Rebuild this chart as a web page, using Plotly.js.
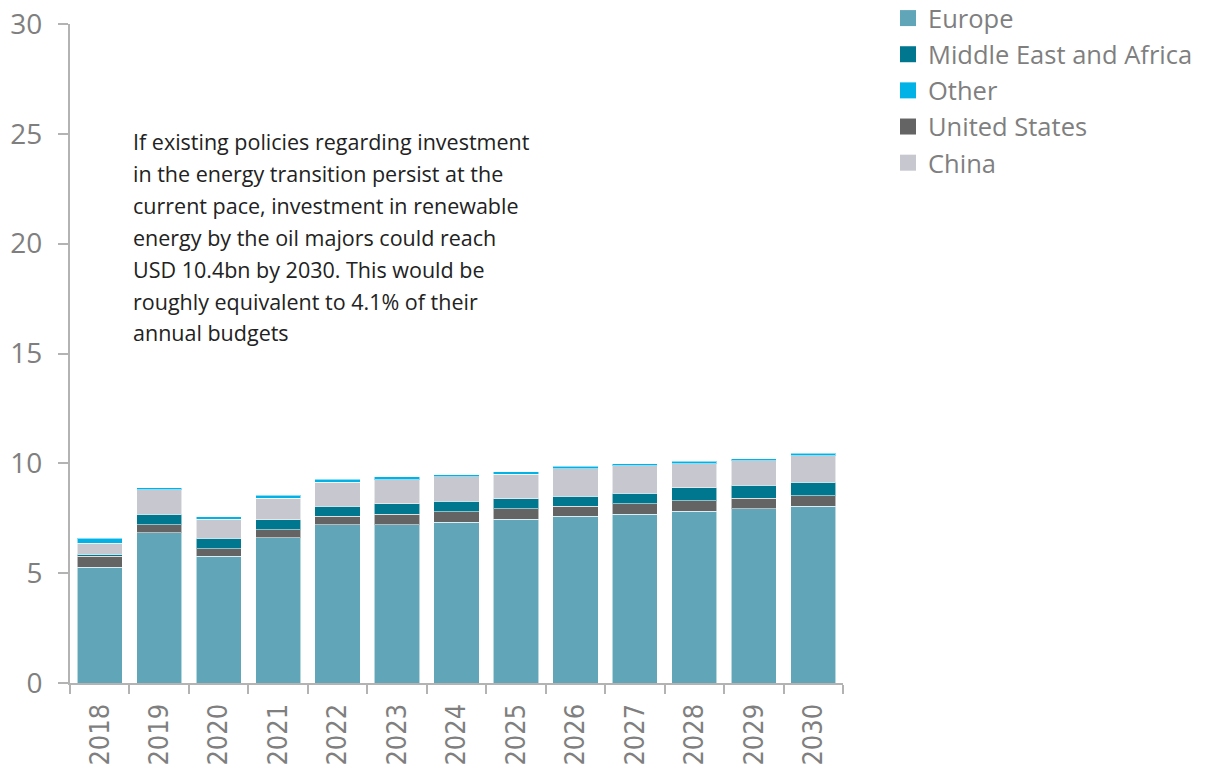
<!DOCTYPE html>
<html>
<head>
<meta charset="utf-8">
<script src="https://cdn.plot.ly/plotly-3.0.1.min.js"></script>
<style>html,body{margin:0;padding:0;background:#fff;}</style>
</head>
<body>
<div id="chart" style="width:1213px;height:770px;"></div>
<script>
const years = ['2018','2019','2020','2021','2022','2023','2024','2025','2026','2027','2028','2029','2030'];
const europe = [5.27, 6.85, 5.77, 6.61, 7.21, 7.21, 7.32, 7.45, 7.58, 7.68, 7.82, 7.94, 8.05];
const unitedStates = [0.49, 0.35, 0.35, 0.36, 0.37, 0.47, 0.47, 0.49, 0.47, 0.49, 0.48, 0.47, 0.48];
const middleEastAfrica = [0.10, 0.48, 0.47, 0.47, 0.47, 0.47, 0.48, 0.45, 0.46, 0.47, 0.58, 0.59, 0.61];
const china = [0.50, 1.11, 0.86, 0.98, 1.10, 1.11, 1.11, 1.12, 1.25, 1.24, 1.11, 1.11, 1.21];
const other = [0.23, 0.10, 0.11, 0.13, 0.12, 0.12, 0.11, 0.11, 0.10, 0.11, 0.10, 0.10, 0.10];
const yTicks = [0, 5, 10, 15, 20, 25, 30];
const noteLines = [
  'If existing policies regarding investment',
  'in the energy transition persist at the',
  'current pace, investment in renewable',
  'energy by the oil majors could reach',
  'USD 10.4bn by 2030. This would be',
  'roughly equivalent to 4.1% of their',
  'annual budgets'
];

const colors = {
  'Europe': '#61a6b8',
  'Middle East and Africa': '#00778f',
  'Other': '#00b2e6',
  'United States': '#646464',
  'China': '#c6c7cf'
};

// stacking order (bottom to top)
const stack = [
  ['Europe', europe],
  ['United States', unitedStates],
  ['Middle East and Africa', middleEastAfrica],
  ['China', china],
  ['Other', other]
];
const legendOrder = ['Europe', 'Middle East and Africa', 'Other', 'United States', 'China'];

const traces = stack.map(([name, vals]) => ({
  type: 'bar', name: name, x: years, y: vals,
  marker: {color: colors[name], line: {color: 'rgba(255,255,255,0.55)', width: 1}},
  showlegend: false, hoverinfo: 'x+y+name'
}));
legendOrder.forEach(name => traces.push({
  type: 'scatter', mode: 'markers', name: name, x: [null], y: [null],
  marker: {symbol: 'square', size: 16, color: colors[name]},
  showlegend: true
}));

const W = 1213, H = 770;
const mL = 70, mR = 370, mT = 24, mB = 87;
const plotH = H - mT - mB;
const plotW = W - mL - mR;

const annotations = noteLines.map((t, i) => ({
  xref: 'paper', yref: 'paper',
  x: (131 - mL) / plotW,
  y: (H - mB - (141.5 + i * 31.9)) / plotH,
  xanchor: 'left', yanchor: 'middle', align: 'left', showarrow: false,
  text: t,
  font: {family: 'Open Sans, sans-serif', size: 21.5, color: '#222222'}
}));

const layout = {
  width: W, height: H,
  margin: {l: mL, r: mR, t: mT, b: mB, autoexpand: false},
  paper_bgcolor: '#ffffff', plot_bgcolor: '#ffffff',
  barmode: 'stack', bargap: 0.24,
  showlegend: true,
  legend: {
    traceorder: 'normal',
    x: (888 - mL) / plotW, xanchor: 'left',
    y: 1 + 29 / plotH, yanchor: 'top',
    font: {family: 'Open Sans, sans-serif', size: 25.5, color: '#7f7f7f'},
    itemwidth: 30, tracegroupgap: 0, bgcolor: 'rgba(0,0,0,0)'
  },
  xaxis: {
    type: 'category', range: [-0.5, 12.5],
    showline: true, linecolor: '#b3b3b3', linewidth: 2,
    ticks: 'outside', tickson: 'boundaries', ticklen: 9, tickwidth: 2, tickcolor: '#b3b3b3',
    tickangle: -90,
    tickfont: {family: 'DejaVu Sans Condensed, sans-serif', size: 27, color: '#7f7f7f'},
    ticklabelstandoff: 8,
    automargin: false,
    showgrid: false, zeroline: false, fixedrange: true
  },
  yaxis: {
    range: [0, 30], tickvals: yTicks, ticktext: yTicks.map(String),
    showline: true, linecolor: '#b3b3b3', linewidth: 2,
    ticks: 'outside', ticklen: 10, tickwidth: 2, tickcolor: '#b3b3b3',
    tickfont: {family: 'Open Sans, sans-serif', size: 28, color: '#7f7f7f'},
    ticklabelstandoff: 10,
    automargin: false,
    showgrid: false, zeroline: false, fixedrange: true
  },
  annotations: annotations
};

Plotly.newPlot('chart', traces, layout, {displayModeBar: false, staticPlot: true});
</script>
</body>
</html>
